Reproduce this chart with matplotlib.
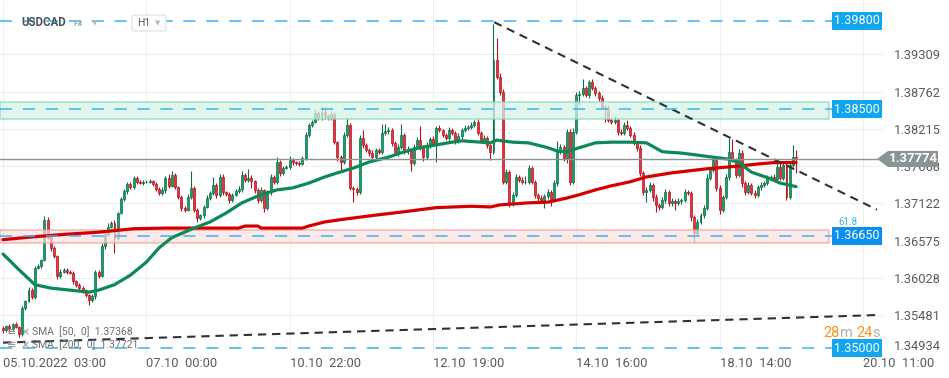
import numpy as np
import matplotlib.pyplot as plt
from matplotlib.patches import Polygon, FancyBboxPatch
import matplotlib.transforms as mtransforms

plt.rcParams['font.family'] = ['Roboto', 'DejaVu Sans']

# USDCAD H1 closes, one per hourly candle starting 05.10.2022 03:00
first_open = 1.3529
closes = [
    1.3527, 1.3532, 1.3528, 1.3535, 1.3531, 1.3521, 1.3559, 1.3569, 1.3585, 1.3575,
    1.3618, 1.3620, 1.3629, 1.3688, 1.3663, 1.3647, 1.3635, 1.3606, 1.3612, 1.3615,
    1.3612, 1.3610, 1.3598, 1.3593, 1.3588, 1.3585, 1.3578, 1.3571, 1.3576, 1.3612,
    1.3606, 1.3650, 1.3667, 1.3678, 1.3684, 1.3662, 1.3698, 1.3719, 1.3730, 1.3741,
    1.3736, 1.3750, 1.3744, 1.3742, 1.3744, 1.3744, 1.3745, 1.3741, 1.3733, 1.3728,
    1.3732, 1.3750, 1.3738, 1.3754, 1.3736, 1.3722, 1.3706, 1.3703, 1.3722, 1.3735,
    1.3703, 1.3691, 1.3695, 1.3707, 1.3720, 1.3728, 1.3739, 1.3725, 1.3751, 1.3729,
    1.3726, 1.3717, 1.3725, 1.3730, 1.3733, 1.3754, 1.3747, 1.3750, 1.3745, 1.3732,
    1.3717, 1.3732, 1.3706, 1.3729, 1.3751, 1.3744, 1.3773, 1.3757, 1.3764, 1.3766,
    1.3776, 1.3773, 1.3772, 1.3770, 1.3779, 1.3813, 1.3827, 1.3832, 1.3845, 1.3838,
    1.3846, 1.3840, 1.3838, 1.3843, 1.3802, 1.3780, 1.3773, 1.3813, 1.3827, 1.3735,
    1.3733, 1.3729, 1.3808, 1.3798, 1.3791, 1.3786, 1.3780, 1.3791, 1.3788, 1.3816,
    1.3818, 1.3820, 1.3801, 1.3786, 1.3795, 1.3813, 1.3788, 1.3792, 1.3772, 1.3795,
    1.3805, 1.3795, 1.3780, 1.3798, 1.3807, 1.3799, 1.3823, 1.3820, 1.3813, 1.3808,
    1.3820, 1.3816, 1.3804, 1.3811, 1.3820, 1.3823, 1.3824, 1.3827, 1.3832, 1.3816,
    1.3805, 1.3808, 1.3798, 1.3788, 1.3923, 1.3898, 1.3876, 1.3744, 1.3758, 1.3713,
    1.3725, 1.3751, 1.3747, 1.3744, 1.3744, 1.3764, 1.3744, 1.3725, 1.3720, 1.3717,
    1.3723, 1.3729, 1.3717, 1.3742, 1.3788, 1.3795, 1.3779, 1.3817, 1.3744, 1.3817,
    1.3871, 1.3873, 1.3881, 1.3871, 1.3890, 1.3881, 1.3874, 1.3867, 1.3854, 1.3852,
    1.3835, 1.3832, 1.3835, 1.3817, 1.3816, 1.3827, 1.3823, 1.3813, 1.3801, 1.3794,
    1.3757, 1.3729, 1.3732, 1.3739, 1.3722, 1.3710, 1.3707, 1.3717, 1.3729, 1.3713,
    1.3716, 1.3713, 1.3716, 1.3717, 1.3729, 1.3728, 1.3692, 1.3669, 1.3685, 1.3695,
    1.3706, 1.3750, 1.3761, 1.3776, 1.3735, 1.3703, 1.3722, 1.3751, 1.3788, 1.3776,
    1.3754, 1.3786, 1.3742, 1.3729, 1.3739, 1.3728, 1.3725, 1.3736, 1.3739, 1.3742,
    1.3750, 1.3751, 1.3748, 1.3766, 1.3750, 1.3769, 1.3722, 1.3769, 1.3780, 1.37774,
]

# wick lengths beyond the body, in pips
wick_up = [
    3, 2, 4, 2, 3, 2, 3, 2, 4, 3,  2, 3, 2, 5, 4, 2, 3, 2, 4, 3,
    2, 2, 3, 2, 2, 3, 2, 2, 4, 3,  2, 4, 3, 5, 3, 4, 2, 3, 4, 2,
    3, 3, 2, 2, 3, 2, 3, 2, 2, 3,  4, 3, 6, 5, 3, 2, 2, 3, 4, 24,
    3, 2, 2, 3, 4, 3, 12, 3, 5, 4,  2, 3, 2, 3, 4, 5, 3, 12, 4, 2,
    3, 4, 2, 3, 4, 3, 7, 3, 3, 2,  5, 3, 2, 2, 3, 4, 3, 3, 5, 3,
    7, 8, 4, 5, 3, 2, 3, 4, 10, 3,  2, 3, 4, 12, 3, 2, 4, 3, 2, 13,
    10, 4, 3, 2, 4, 15, 3, 4, 2, 4,  5, 20, 3, 4, 3, 4, 3, 4, 2, 3,
    4, 3, 2, 4, 3, 4, 3, 5, 3, 4,  3, 4, 3, 2, 53, 32, 6, 4, 5, 3,
    4, 5, 3, 4, 8, 4, 3, 2, 3, 4,  3, 4, 3, 5, 15, 4, 3, 5, 4, 6,
    5, 4, 13, 4, 3, 5, 4, 3, 4, 3,  4, 3, 5, 3, 4, 4, 8, 3, 4, 3,
    4, 3, 4, 5, 3, 4, 3, 4, 5, 3,  4, 3, 4, 3, 5, 3, 2, 3, 4, 3,
    4, 5, 3, 4, 3, 4, 3, 4, 20, 18,  3, 6, 4, 3, 4, 3, 4, 3, 4, 3,
    4, 3, 4, 5, 8, 4, 3, 4, 18, 10,
]
wick_dn = [
    5, 3, 4, 3, 2, 5, 4, 3, 2, 3,  3, 2, 3, 2, 3, 4, 3, 5, 3, 2,
    3, 2, 4, 3, 3, 4, 3, 8, 3, 4,  3, 2, 4, 3, 2, 22, 3, 2, 3, 4,
    2, 3, 3, 2, 3, 2, 2, 3, 3, 4,  3, 4, 3, 2, 3, 4, 5, 3, 2, 4,
    3, 6, 3, 4, 2, 3, 4, 5, 3, 4,  3, 4, 3, 2, 3, 4, 3, 4, 10, 5,
    4, 3, 6, 3, 4, 3, 4, 5, 3, 2,  3, 4, 3, 3, 2, 3, 4, 3, 2, 4,
    3, 4, 3, 4, 3, 5, 12, 3, 4, 3,  19, 5, 3, 4, 3, 4, 3, 4, 3, 4,
    3, 4, 5, 3, 4, 3, 4, 3, 13, 4,  3, 4, 5, 3, 4, 3, 26, 3, 4, 3,
    4, 3, 5, 3, 4, 3, 3, 2, 3, 4,  3, 4, 5, 12, 3, 4, 5, 4, 3, 6,
    4, 3, 4, 3, 4, 3, 4, 5, 4, 3,  12, 4, 8, 3, 4, 3, 4, 7, 5, 4,
    3, 15, 4, 3, 4, 3, 5, 4, 3, 20,  4, 3, 4, 5, 3, 4, 3, 4, 3, 5,
    4, 5, 15, 3, 6, 10, 4, 3, 4, 5,  4, 10, 3, 4, 3, 4, 5, 13, 4, 3,
    4, 3, 4, 3, 5, 7, 4, 3, 4, 3,  4, 3, 6, 4, 3, 4, 5, 3, 4, 3,
    3, 4, 3, 4, 3, 4, 5, 4, 3, 20,
]

# moving averages read at a few candle positions
sma50_idx = [0, 5, 10, 15, 21, 27, 30, 35, 40, 45, 49, 53, 60, 65, 70, 75, 81, 86, 91, 96,
             101, 105, 110, 115, 121, 126, 131, 136, 141, 144, 150, 153, 155, 160, 165, 171,
             174, 177, 181, 186, 191, 197, 202, 207, 213, 218, 223, 228, 231, 235, 240, 244, 249]
sma50_val = [1.3638, 1.3615, 1.3593, 1.3588, 1.3585, 1.3582, 1.3585, 1.3593, 1.3607, 1.3626,
             1.3647, 1.3662, 1.3676, 1.3685, 1.3698, 1.3713, 1.3725, 1.3732, 1.3735, 1.3742,
             1.3751, 1.3757, 1.3764, 1.3773, 1.3780, 1.3788, 1.3794, 1.3798, 1.3802, 1.3804,
             1.3802, 1.3801, 1.3805, 1.3802, 1.3801, 1.3794, 1.3789, 1.3788, 1.3794, 1.3801,
             1.3802, 1.3802, 1.3801, 1.3788, 1.3786, 1.3783, 1.3780, 1.3777, 1.3772, 1.3758,
             1.3750, 1.3742, 1.37368]
sma200_idx = [0, 9, 20, 30, 41, 51, 74, 76, 80, 81, 94, 96, 101, 107, 117, 126, 136, 147,
              153, 156, 165, 171, 177, 181, 186, 191, 197, 202, 210, 221, 231, 237, 242, 249]
sma200_val = [1.3659, 1.3663, 1.3667, 1.3670, 1.3675, 1.3676, 1.3676, 1.3679, 1.3679, 1.3676,
              1.3676, 1.3679, 1.3685, 1.3689, 1.3695, 1.3700, 1.3706, 1.3708, 1.3707, 1.3710,
              1.3713, 1.3714, 1.3720, 1.3725, 1.3732, 1.3738, 1.3744, 1.3751, 1.3757, 1.3763,
              1.3767, 1.3770, 1.3772, 1.37721]

# trend lines (candle index, price)
down_trend = ([154.2, 274.4], [1.3978, 1.3703])
up_trend = ([0.0, 275.4], [1.3508, 1.35486])

levels = [1.39800, 1.38500, 1.36650, 1.35000]
green_zone = (1.3836, 1.3861)
red_zone = (1.3654, 1.3673)
last_price = 1.37774

y_ticks = [1.34934, 1.35481, 1.36028, 1.36575, 1.37122, 1.37668, 1.38215, 1.38762, 1.39309]
x_ticks = [0, 45, 90, 135, 180, 225, 270]
x_labels = ['05.10.2022  03:00', '07.10  00:00', '10.10  22:00', '12.10  19:00',
            '14.10  16:00', '18.10  14:00', '20.10  11:00']

W, H = 949, 378
fig = plt.figure(figsize=(W / 100, H / 100), dpi=100)
ax = fig.add_axes([0, 1 - 353 / H, 883 / W, 353 / H])
ax.set_xlim(-0.95, 276.3)
ax.set_ylim(1.34928, 1.40105)

def fx(px):
    return px / W

def fy(py):
    return 1 - py / H

for s in ax.spines.values():
    s.set_visible(False)
ax.set_yticks(y_ticks)
ax.set_yticklabels([f'{v:.5f}' for v in y_ticks])
ax.yaxis.tick_right()
ax.set_xticks(x_ticks)
ax.set_xticklabels(x_labels, ha='left')
ax.tick_params(length=0, labelsize=9.3, labelcolor='#555b60')
ax.tick_params(axis='y', pad=8)
ax.tick_params(axis='x', pad=3)
# the lowest price label sits a little above its grid line, clear of the date row
ax.get_yticklabels()[0].set_va('bottom')
ax.grid(True, color='#eeeeee', lw=0.8)
ax.set_axisbelow(True)

# candles
idx = np.arange(len(closes))
c = np.array(closes)
o = np.array([first_open] + closes[:-1])
top = np.maximum(o, c)
bot = np.minimum(o, c)
hi = top + np.array(wick_up) * 0.0001
lo = bot - np.array(wick_dn) * 0.0001
up = c >= o
for mask, fc, ec in [(up, '#17a06b', '#0b6e47'), (~up, '#e8323e', '#b3141f')]:
    ax.vlines(idx[mask], lo[mask], hi[mask], color=ec, lw=0.8, zorder=3)
    ax.bar(idx[mask], np.maximum(top[mask] - bot[mask], 0.00003), bottom=bot[mask],
           width=0.62, color=fc, edgecolor=ec, linewidth=0.5, zorder=4)

# zones
trans = mtransforms.blended_transform_factory(ax.transAxes, ax.transData)
zone_end = 829 / 883
ax.add_patch(plt.Rectangle((0, green_zone[0]), zone_end, green_zone[1] - green_zone[0],
                           transform=trans, fc='#d6f4e8', ec='#86d8b8', lw=1.1, alpha=0.75, zorder=5))
ax.add_patch(plt.Rectangle((0, red_zone[0]), zone_end, red_zone[1] - red_zone[0],
                           transform=trans, fc='#fbe1e1', ec='#f09c9c', lw=1.1, alpha=0.7, zorder=5))

# moving averages
ax.plot(sma200_idx, sma200_val, color='#d40000', lw=2.3, zorder=6, solid_capstyle='round')
ax.plot(sma50_idx, sma50_val, color='#0b8a58', lw=2.3, zorder=6, solid_capstyle='round')

# trend lines
ax.plot(*down_trend, color='#2c3236', lw=1.5, ls=(0, (4, 2.8)), zorder=7)
ax.plot(*up_trend, color='#2c3236', lw=1.5, ls=(0, (4, 2.8)), zorder=7)

# horizontal levels with price boxes
for lv in levels:
    ax.plot([0, 833 / 883], [lv, lv], transform=trans, color='#3cb4ec', lw=1.1,
            ls=(0, (8, 7)), zorder=7)
    box_col = '#0b8ff0' if lv == 1.3665 else '#12a6ee'
    ax.text(834 / 883, lv, f'{lv:.5f}', transform=trans, ha='left', va='center',
            color='white', fontsize=9, zorder=9, clip_on=False,
            bbox=dict(boxstyle='square,pad=0.2', fc=box_col, ec='none'))
ax.text(838 / 883, 1.3677, '61.8', transform=trans, ha='left', va='bottom',
        color='#3cb4ec', fontsize=7, zorder=9)

# last price line and tag
ax.plot([0, 877 / 883], [last_price, last_price], transform=trans, color='#8a9296',
        lw=1, zorder=7, clip_on=False)
tag_h = 0.00118
tag = Polygon([(877 / 883, last_price), (888 / 883, last_price + tag_h),
               (938 / 883, last_price + tag_h), (938 / 883, last_price - tag_h),
               (888 / 883, last_price - tag_h)], closed=True, transform=trans,
              fc='#8c9396', ec='none', zorder=10, clip_on=False)
ax.add_patch(tag)
ax.text(913 / 883, last_price, f'{last_price:.5f}', transform=trans, ha='center', va='center',
        color='white', fontsize=9.5, fontweight='bold', zorder=11, clip_on=False)

# header
fig.text(fx(21), fy(23), 'USDCAD', fontsize=8.3, fontweight='bold', color='#4b545a', va='center')
fig.text(fx(74), fy(24), 'FX', fontsize=5.8, fontweight='bold', color='#9aa6ac', va='center')
fig.text(fx(92), fy(23), '▼', fontsize=5, color='#b5bcc0', va='center', family='DejaVu Sans')
fig.patches.append(FancyBboxPatch((fx(132), fy(31)), fx(34), 16 / H,
                                  boxstyle='round,pad=0,rounding_size=0.004',
                                  transform=fig.transFigure, fc='white', ec='#dedede', lw=0.8))
fig.text(fx(137), fy(23), 'H1', fontsize=7.5, color='#555b60', va='center')
fig.text(fx(155), fy(23), '▼', fontsize=5, color='#b5bcc0', va='center', family='DejaVu Sans')

# indicator legend
fig.text(fx(7), fy(332), '≡', fontsize=8, color='#8a8a8a', va='center', family='DejaVu Sans')
fig.text(fx(7), fy(345), '≡', fontsize=8, color='#8a8a8a', va='center', family='DejaVu Sans')
fig.text(fx(20), fy(332), '×', fontsize=8, color='#8a8a8a', va='center', family='DejaVu Sans')
fig.text(fx(20), fy(345), '×', fontsize=8, color='#8a8a8a', va='center', family='DejaVu Sans')
fig.text(fx(32), fy(332), 'SMA  [50,  0]  1.37368', fontsize=7.5, color='#6f6f6f', va='center')
fig.text(fx(32), fy(345), 'SMA  [200,  0]  1.37721', fontsize=7.5, color='#6f6f6f', va='center')

# candle timer, each piece placed right after the previous one
prev = fig.text(fx(823), fy(333), '28', fontsize=10.5, color='#f7941d', va='center')
for part, col, gap in [('m', '#b0b0b0', 0.3), ('24', '#f7941d', 2.5), ('s', '#b0b0b0', 0.3)]:
    prev = ax.annotate(part, xy=(1, 0.5), xycoords=prev, xytext=(gap, 0),
                       textcoords='offset points', va='center', ha='left',
                       fontsize=10.5, color=col, annotation_clip=False)

fig.savefig('out.png', dpi=100)
